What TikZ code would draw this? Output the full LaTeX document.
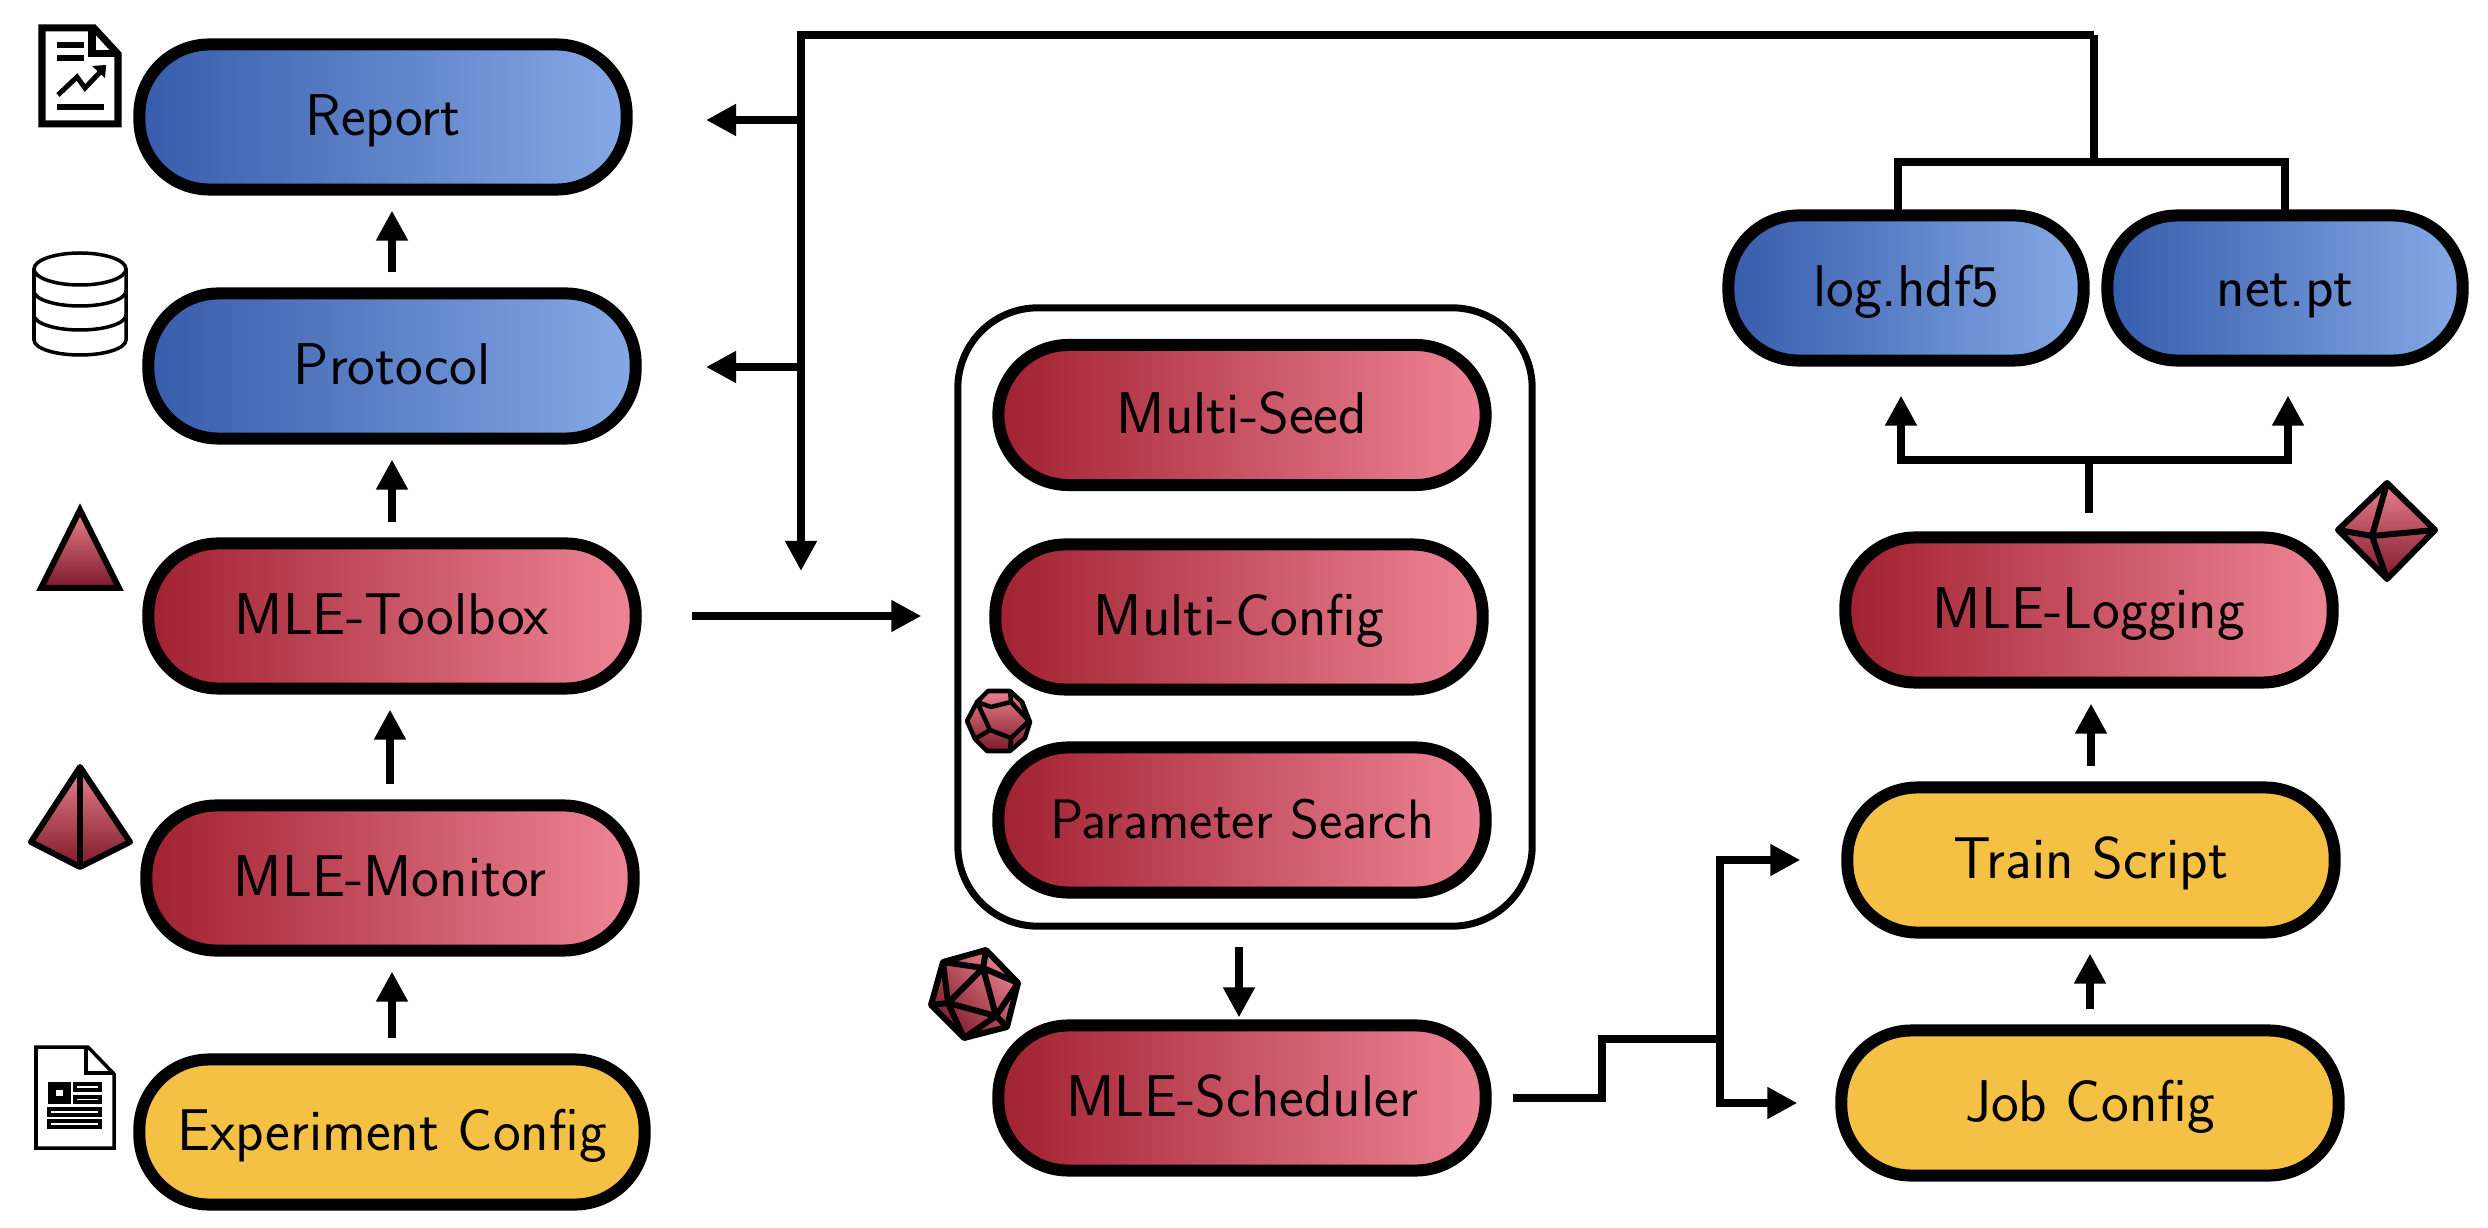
\documentclass[tikz,border=0pt]{standalone}
\usepackage{tikz}
\usetikzlibrary{arrows.meta,calc}
\definecolor{blueL}{HTML}{365CAB}
\definecolor{blueR}{HTML}{86A9E6}
\definecolor{redL}{HTML}{A12131}
\definecolor{redR}{HTML}{EE8596}
\definecolor{yellowF}{HTML}{F4C145}
\definecolor{polyT}{HTML}{E8808F}
\definecolor{polyB}{HTML}{7E1A2A}
\tikzset{
  pill/.style={draw,line width=0.12cm,rounded corners=0.7cm,minimum width=4.87cm,
    minimum height=1.45cm,outer sep=0.21cm,text height=10.7pt,text depth=0pt,
    font=\sffamily\fontsize{16.75}{19}\selectfont},
  bluepill/.style={pill,left color=blueL,right color=blueR},
  redpill/.style={pill,left color=redL,right color=redR},
  yellowpill/.style={pill,fill=yellowF},
  wire/.style={line width=0.08cm},
  flow/.style={wire,-{Triangle[length=0.3cm,width=0.3cm]}},
  poly/.style={draw,line width=0.06cm,line join=round,top color=polyT,bottom color=polyB},
  polydiag/.style={draw,line width=0.06cm,line join=round,left color=polyT,right color=polyB,shading angle=-45},
  thickicon/.style={line width=0.07cm},
  thinicon/.style={line width=0.035cm}
}
\begin{document}
\begin{tikzpicture}[x=0.01cm,y=-0.01cm]
\useasboundingbox (0,0) rectangle (2488,1228);
% left column
\node[bluepill] (report) at (383,117) {Report};
\node[bluepill] (protocol) at (392,366) {Protocol};
\node[redpill] (toolbox) at (392,616) {MLE-Toolbox};
\node[redpill] (monitor) at (390,878) {MLE-Monitor};
\node[yellowpill,minimum width=5.05cm] (expconfig) at (392,1132) {Experiment Config};
% middle column
\node[draw,line width=0.07cm,rounded corners=0.8cm,minimum width=5.74cm,minimum height=6.18cm] (box) at (1245,617) {};
\node[redpill,minimum height=1.4cm] (seed) at (1242,415) {Multi-Seed};
\node[redpill] (multiconfig) at (1239,617) {Multi-Config};
\node[redpill,font=\sffamily\fontsize{15.8}{18}\selectfont] (search) at (1242,820) {Parameter Search};
\node[redpill] (scheduler) at (1242,1098) {MLE-Scheduler};
% right column
\node[bluepill,minimum width=3.55cm] (log) at (1906,288) {log.hdf5};
\node[bluepill,minimum width=3.55cm] (net) at (2285,288) {net.pt};
\node[redpill] (logging) at (2089,610) {MLE-Logging};
\node[yellowpill] (train) at (2091,860) {Train Script};
\node[yellowpill,minimum width=4.97cm] (jobconfig) at (2090,1103) {Job Config};
% junctions
\coordinate (bustop) at (801,35);
\coordinate (busend) at (801,571);
\coordinate (outtop) at (2094,35);
\coordinate (outbar) at (2094,162);
\coordinate (logbar) at (1898,162);
\coordinate (netbar) at (2285,162);
\coordinate (split) at (2089,460);
\coordinate (logturn) at (1901,460);
\coordinate (netturn) at (2288,460);
\coordinate (stepA) at (1602,1098);
\coordinate (stepB) at (1602,1039);
\coordinate (fork) at (1720,1039);
\coordinate (reportarrow) at (706,120);
\coordinate (protocolarrow) at (706,367);
\coordinate (schedtail) at (1239,947);
% connectors
\draw[flow] (protocol.north) -- (protocol.north |- report.south);
\draw[flow] (toolbox.north) -- (toolbox.north |- protocol.south);
\draw[flow] (monitor.north) -- (monitor.north |- toolbox.south);
\draw[flow] (expconfig.north) -- (expconfig.north |- monitor.south);
\draw[flow,shorten <=0.35cm,shorten >=0.33cm] (toolbox.east) -- (box.west |- toolbox.east);
\draw[flow] (outtop) -- (bustop) -- (busend);
\draw[wire] (outtop) -- (outbar);
\draw[wire,shorten <=-0.25cm,shorten >=-0.25cm] (logbar |- log.north) -- (logbar) -- (netbar) -- (net.north);
\draw[flow] (bustop |- reportarrow) -- (reportarrow);
\draw[flow] (bustop |- protocolarrow) -- (protocolarrow);
\draw[flow,shorten >=-0.13cm] (schedtail) -- (schedtail |- scheduler.north);
\draw[wire,shorten <=0.06cm] (scheduler.east) -- (stepA) -- (stepB) -- (fork);
\draw[flow,shorten >=0.26cm] (fork) |- (train.west);
\draw[flow,shorten >=0.23cm] (fork) |- (jobconfig.west);
\draw[flow] (jobconfig.north) -- (jobconfig.north |- train.south);
\draw[flow] (train.north) -- (train.north |- logging.south);
\draw[wire,shorten <=0.03cm] (logging.north) -- (split);
\draw[flow,shorten >=0.14cm] (split) -- (logturn) -- (logturn |- log.south);
\draw[flow,shorten >=0.14cm] (split) -- (netturn) -- (netturn |- net.south);
% report icon
\draw[thickicon,fill=white] (42,28) -- (94,28) -- (118,54) -- (118,124) -- (42,124) -- cycle;
\draw[thickicon] (92,28) -- (92,54) -- (118,54);
\draw[line width=0.06cm] (57,45) -- (84,45) (57,58) -- (84,58) (57,107) -- (104,107);
\draw[line width=0.05cm] (58,95) -- (77,77) -- (85,88) -- (104,68);
\fill (92,66) -- (106,65) -- (105,78) -- cycle;
% database icon
\draw[thinicon] (34,269) -- (34,340) arc[start angle=180,end angle=0,x radius=46,y radius=15] -- (126,269);
\draw[thinicon] (80,269) ellipse[x radius=46,y radius=16];
\draw[thinicon] (34,291) arc[start angle=180,end angle=0,x radius=46,y radius=15];
\draw[thinicon] (34,315) arc[start angle=180,end angle=0,x radius=46,y radius=15];
% config icon
\draw[thinicon] (36,1047) -- (88,1047) -- (114,1074) -- (114,1148) -- (36,1148) -- cycle;
\draw[thinicon] (86,1047) -- (86,1073) -- (114,1073);
\draw[thinicon] (50,1084) rectangle (69,1102);
\draw[thinicon] (54,1088) rectangle (65,1098);
\draw[thinicon] (75,1084) rectangle (100,1090);
\draw[thinicon] (75,1097) rectangle (100,1102);
\draw[thinicon] (49,1109) rectangle (100,1115);
\draw[thinicon] (49,1121) rectangle (100,1127);
% polyhedra
\draw[poly,line join=miter] (80,510) -- (119,588) -- (41,588) -- cycle;
\draw[poly] (80,767) -- (130,842) -- (80,867) -- (31,842) -- cycle;
\draw[line width=0.06cm] (80,767) -- (80,867);
\draw[poly,line width=0.045cm] (988,691) -- (1010,691) -- (1022,702) -- (1030,722) -- (1025,738) -- (1010,751) -- (987,751) -- (975,739) -- (967,721) -- (977,702) -- cycle;
\draw[line width=0.045cm,line join=round] (977,702) -- (991,707) -- (1011,702) -- (1029,721) -- (1011,738) -- (990,730) -- cycle
  (1010,691) -- (1011,702) (1011,738) -- (1010,751) (990,730) -- (975,739) (1022,702) -- (1029,721);
\draw[polydiag] (943,962) -- (986,950) -- (1018,983) -- (1007,1027) -- (964,1038) -- (931,1005) -- cycle;
\draw[line width=0.06cm,line join=round] (943,962) -- (983,968) (986,950) -- (983,968) (1018,983) -- (983,968) -- (948,1003) -- (996,1016) -- (983,968)
  (943,962) -- (948,1003) (931,1005) -- (948,1003) (964,1038) -- (948,1003) (964,1038) -- (996,1016) (1007,1027) -- (996,1016) (1018,983) -- (996,1016);
\draw[poly] (2387,483) -- (2435,530) -- (2387,579) -- (2338,530) -- cycle;
\draw[line width=0.06cm,line join=round] (2387,483) -- (2372,536) -- (2387,579) (2338,530) -- (2372,536) -- (2435,530);
\end{tikzpicture}
\end{document}
